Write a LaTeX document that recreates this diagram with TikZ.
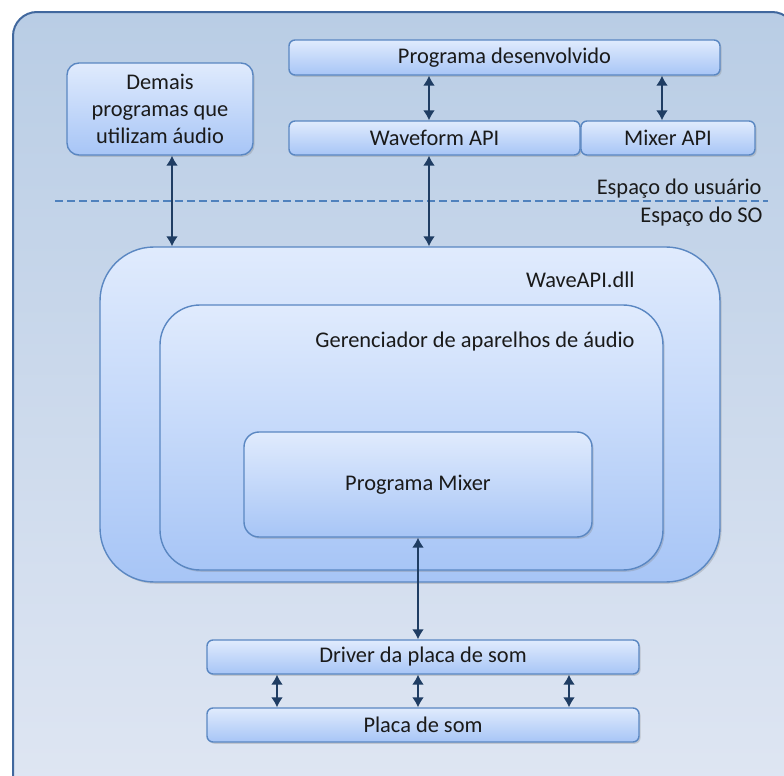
\documentclass[tikz,border=0pt]{standalone}
\usepackage{fontspec}
\setmainfont{Carlito}
\usetikzlibrary{arrows.meta,shadows}
\definecolor{bordc}{HTML}{5A87C2}
\definecolor{arrc}{HTML}{1F3D63}
\definecolor{boxtop}{HTML}{E0EBFD}
\definecolor{boxbot}{HTML}{A7C5F6}
\definecolor{outtop}{HTML}{B9CDE5}
\definecolor{outbot}{HTML}{DFE6F3}
\definecolor{outline}{HTML}{41689E}
\definecolor{dashc}{HTML}{4F81BD}
\definecolor{txt}{HTML}{1A1A1A}
\begin{document}
\begin{tikzpicture}[x=0.5pt,y=-0.5pt,
  box/.style={draw=bordc, line width=0.7pt, top color=boxtop, bottom color=boxbot,
    rounded corners=#1, inner sep=0pt, text=txt, align=center,
    drop shadow={opacity=0.3, shadow xshift=0.8pt, shadow yshift=-0.9pt}},
  box/.default=4pt,
  lbl/.style={text=txt, inner sep=0pt},
  arr/.style={{Latex[length=5pt,width=6pt]}-{Latex[length=5pt,width=6pt]}, draw=arrc, line width=0.9pt},
  font=\fontsize{11.2}{13.5}\selectfont]
\useasboundingbox (0,0) rectangle (784,776);
\clip (0,0) rectangle (784,776);
% outer region
\draw[draw=outline, line width=1pt, top color=outtop, bottom color=outbot, rounded corners=12pt]
  (13,12) rectangle (796,800);
% user space
\node[box=6pt, minimum width=93pt, minimum height=46pt] (demais) at (160,109)
  {Demais\\programas que\\utilizam áudio};
\node[box=3pt, minimum width=215.5pt, minimum height=17.5pt] (progdes) at (504.5,57.5)
  {Programa desenvolvido};
\node[box=3pt, minimum width=145.5pt, minimum height=17pt] (wave) at (434.5,138)
  {Waveform API};
\node[box=3pt, minimum width=87pt, minimum height=17pt] (mixapi) at (668,138)
  {Mixer API};
% separator
\coordinate (dl) at (55,201);
\coordinate (dr) at (768,201);
\draw[dashc, line width=0.7pt, dash pattern=on 4pt off 2pt] (dl) -- (dr);
\node[lbl, anchor=east] (usr) at (762,189) {Espaço do usuário};
\node[lbl, anchor=east] (so) at (763,217) {Espaço do SO};
% OS space
\node[box=27pt, minimum width=310pt, minimum height=167.5pt] (waveapi) at (410,414.5) {};
\node[lbl, anchor=east] (waveapilbl) at (635,280) {WaveAPI.dll};
\node[box=20pt, minimum width=251.5pt, minimum height=132.5pt] (geren) at (411.5,437.5) {};
\node[lbl, anchor=east] (gerenlbl) at (635,342) {Gerenciador de aparelhos de áudio};
\node[box=7.5pt, minimum width=174pt, minimum height=52.5pt] (pmixer) at (418,484.5)
  {Programa Mixer};
\node[box=3pt, minimum width=216pt, minimum height=17pt] (driver) at (423,657)
  {Driver da placa de som};
\node[box=3pt, minimum width=216pt, minimum height=17pt] (placa) at (423,725)
  {Placa de som};
% arrows
\coordinate (xa) at (172,0);
\coordinate (xb) at (429,0);
\coordinate (xc) at (662,0);
\coordinate (xd) at (418,0);
\coordinate (xe) at (277,0);
\coordinate (xf) at (569,0);
\draw[arr] (xb |- progdes.south) -- (xb |- wave.north);
\draw[arr] (xc |- progdes.south) -- (xc |- mixapi.north);
\draw[arr] (xa |- demais.south) -- (xa |- waveapi.north);
\draw[arr] (xb |- wave.south) -- (xb |- waveapi.north);
\draw[arr] (xd |- pmixer.south) -- (xd |- driver.north);
\draw[arr] (xe |- driver.south) -- (xe |- placa.north);
\draw[arr] (xd |- driver.south) -- (xd |- placa.north);
\draw[arr] (xf |- driver.south) -- (xf |- placa.north);
\end{tikzpicture}
\end{document}
